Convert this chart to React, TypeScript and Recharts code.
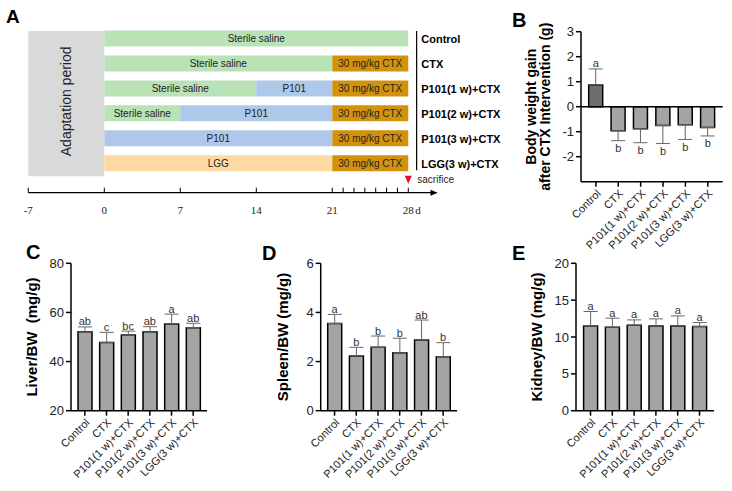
import React from 'react';
import {
  ComposedChart,
  Bar,
  Line,
  XAxis,
  YAxis,
  ErrorBar,
  LabelList,
  ReferenceArea,
  ReferenceLine,
  Cell,
} from 'recharts';

const FONT = '"Liberation Sans", Arial, Helvetica, sans-serif';
const SERIF = '"Liberation Serif", "Times New Roman", serif';

// ---- panel A: treatment timeline (days) ----
const timelineRows = ['Control', 'CTX', 'P101(1 w)+CTX', 'P101(2 w)+CTX', 'P101(3 w)+CTX', 'LGG(3 w)+CTX'];
const salineDays = [28, 21, 14, 7, 0, 0];
const p101Days = [0, 0, 7, 14, 21, 0];
const lggDays = [0, 0, 0, 0, 0, 21];
const ctxDays = [0, 7, 7, 7, 7, 7];
const dayTicks = [-7, 0, 7, 14, 21, 22, 23, 24, 25, 26, 27, 28];
const dayLabels = [-7, 0, 7, 14, 21, 28];

// ---- panels B-E: group means, SD and significance letters ----
const groups = ['Control', 'CTX', 'P101(1 w)+CTX', 'P101(2 w)+CTX', 'P101(3 w)+CTX', 'LGG(3 w)+CTX'];

const weightGain = [0.87, -0.96, -0.88, -0.75, -0.72, -0.83];
const weightGainSd = [0.64, 0.4, 0.56, 0.72, 0.59, 0.34];
const weightGainLetters = ['a', 'b', 'b', 'b', 'b', 'b'];

const liverRatio = [52.1, 47.8, 50.8, 52.1, 55.3, 53.8];
const liverSd = [2.0, 4.1, 1.6, 2.1, 4.0, 1.8];
const liverLetters = ['ab', 'c', 'bc', 'ab', 'a', 'ab'];

const spleenRatio = [3.55, 2.23, 2.58, 2.36, 2.88, 2.2];
const spleenSd = [0.37, 0.35, 0.46, 0.59, 0.81, 0.57];
const spleenLetters = ['a', 'b', 'b', 'b', 'ab', 'b'];

const kidneyRatio = [11.5, 11.32, 11.6, 11.5, 11.5, 11.42];
const kidneySd = [1.96, 1.23, 0.72, 0.96, 1.36, 0.54];
const kidneyLetters = ['a', 'a', 'a', 'a', 'a', 'a'];

const GREEN = '#b9e2b7';
const BLUE = '#aec8e9';
const PEACH = '#fed9a3';
const GOLD = '#d3920c';
const GREY_BAR = '#a4a4a4';
const DARK_BAR = '#6e6e6e';

function DayTick(props: any) {
  const { x, y, payload } = props;
  const v = payload.value;
  if (!dayLabels.includes(v)) return null;
  return (
    <g>
      <text x={x} y={y} dy="0.71em" textAnchor="middle" fontFamily={SERIF} fontSize={11} fill="#222">
        {v}
      </text>
      {v === 28 && (
        <text x={x + 7} y={y} dy="0.71em" textAnchor="start" fontFamily={SERIF} fontSize={11} fill="#222">
          d
        </text>
      )}
    </g>
  );
}

// label centred in a timeline segment, drawn as plain text so it never wraps
const segLabel = (text: string) => (lp: any) => {
  const vb = lp.viewBox || lp;
  if (!vb.width || Math.abs(vb.width) < 1) return null;
  return (
    <text
      x={vb.x + vb.width / 2}
      y={vb.y + vb.height / 2}
      dy="0.35em"
      textAnchor="middle"
      fontFamily={FONT}
      fontSize={10}
      fill="#222"
    >
      {text}
    </text>
  );
};

const rowName = (lp: any) => {
  const vb = lp.viewBox || {};
  const x = vb.x ?? lp.x;
  const y = vb.y ?? lp.y;
  return (
    <text x={x + 13} y={y} dy="0.35em" fontFamily={FONT} fontSize={11} fontWeight="bold" fill="#000">
      {lp.value}
    </text>
  );
};

function Timeline() {
  const data = timelineRows.map((name, i) => ({
    name,
    saline: salineDays[i],
    p101: p101Days[i],
    lgg: lggDays[i],
    ctx: ctxDays[i],
    end: salineDays[i] + p101Days[i] + lggDays[i] + ctxDays[i],
  }));

  return (
    <ComposedChart
      layout="vertical"
      width={510}
      height={222}
      data={data}
      barSize={16}
      margin={{ top: 26.5, right: 73.5, bottom: 0, left: 28.3 }}
      style={{ overflow: 'visible' }}
    >
      <XAxis
        type="number"
        domain={[-7, 30.6]}
        ticks={dayTicks}
        interval={0}
        height={29.3}
        axisLine={{ stroke: '#000', strokeWidth: 1.3 }}
        tickLine={{ stroke: '#000', strokeWidth: 1 }}
        tickSize={-5}
        tickMargin={18}
        tick={<DayTick />}
      />
      <YAxis type="category" dataKey="name" hide padding={{ top: 0, bottom: 16.5 }} />
      <ReferenceArea
        x1={-7}
        x2={0}
        fill="#d9d9d9"
        fillOpacity={1}
        stroke="none"
        shape={(p: any) => (
          <rect x={p.x} y={p.y + 4.5} width={p.width} height={p.height - 4.5} fill="#d9d9d9" />
        )}
        label={{ value: 'Adaptation period', angle: -90, position: 'center', fontSize: 14, fill: '#222', fontFamily: FONT }}
      />
      <Bar dataKey="saline" stackId="t" fill={GREEN} isAnimationActive={false}>
        <LabelList dataKey="saline" content={segLabel('Sterile saline')} />
      </Bar>
      <Bar dataKey="p101" stackId="t" fill={BLUE} isAnimationActive={false}>
        <LabelList dataKey="p101" content={segLabel('P101')} />
      </Bar>
      <Bar dataKey="lgg" stackId="t" fill={PEACH} isAnimationActive={false}>
        <LabelList dataKey="lgg" content={segLabel('LGG')} />
      </Bar>
      <Bar dataKey="ctx" stackId="t" fill={GOLD} isAnimationActive={false}>
        <LabelList dataKey="ctx" content={segLabel('30 mg/kg CTX')} />
      </Bar>
      {/* invisible series at the end of each schedule carrying the group names */}
      <Line dataKey="end" stroke="none" dot={false} activeDot={false} legendType="none" isAnimationActive={false}>
        <LabelList dataKey="name" content={rowName} />
      </Line>
      {/* separator between bars and group names */}
      <ReferenceLine
        x={28.77}
        stroke="#000"
        strokeWidth={1.2}
        shape={(p: any) => {
          const top = Math.min(p.y1, p.y2);
          const bottom = Math.max(p.y1, p.y2);
          return <line x1={p.x1} x2={p.x2} y1={top + 4.5} y2={bottom - 22.5} stroke="#000" strokeWidth={1.2} />;
        }}
      />
      {/* sacrifice marker on day 28 */}
      <ReferenceLine
        x={28}
        stroke="none"
        label={(p: any) => {
          const vb = p.viewBox;
          const cx = vb.x;
          const cy = vb.y + vb.height - 13;
          return (
            <g>
              <polygon points={`${cx - 3.5},${cy - 4} ${cx + 3.5},${cy - 4} ${cx},${cy + 4}`} fill="#e3121e" />
              <text x={cx + 9} y={cy + 3.5} fontFamily={FONT} fontSize={10} fill="#222">
                sacrifice
              </text>
            </g>
          );
        }}
      />
      {/* arrow head of the time axis */}
      <ReferenceLine
        x={30.6}
        stroke="none"
        label={(p: any) => {
          const vb = p.viewBox;
          const x = vb.x;
          const y = vb.y + vb.height;
          return <polygon points={`${x - 6},${y - 3} ${x + 1},${y} ${x - 6},${y + 3}`} fill="#000" />;
        }}
      />
    </ComposedChart>
  );
}

const axisTitle = (lines: string[], offsets: number[], size: number) => (props: any) => {
  const vb = props.viewBox;
  const axisX = vb.x + vb.width;
  const cy = vb.y + vb.height / 2;
  return (
    <g>
      {lines.map((t, i) => {
        const x = axisX - offsets[i];
        return (
          <text
            key={i}
            x={x}
            y={cy}
            transform={`rotate(-90, ${x}, ${cy})`}
            textAnchor="middle"
            dominantBaseline="central"
            fontFamily={FONT}
            fontWeight="bold"
            fontSize={size}
            fill="#000"
            style={{ whiteSpace: 'pre' }}
          >
            {t}
          </text>
        );
      })}
    </g>
  );
};

interface PanelProps {
  values: number[];
  sd: number[];
  letters: string[];
  domain: [number, number];
  ticks: number[];
  fills: string[];
  title: string[];
  titleOffsets: number[];
  titleSize: number;
  width: number;
  height: number;
  margin: { top: number; right: number; bottom: number; left: number };
  pad: number;
  xHeight: number;
  zeroLine?: boolean;
}

function GroupPanel(p: PanelProps) {
  const data = groups.map((name, i) => {
    const up = p.values[i] >= 0;
    return {
      name,
      value: p.values[i],
      err: up ? [0, p.sd[i]] : [p.sd[i], 0],
      cap: up ? p.values[i] + p.sd[i] : p.values[i] - p.sd[i],
      letter: p.letters[i],
    };
  });

  const renderLetter = (lp: any) => {
    const vb = lp.viewBox || {};
    const x = vb.x ?? lp.x;
    const y = vb.y ?? lp.y;
    const up = p.values[lp.index] >= 0;
    return (
      <text x={x} y={up ? y - 1.5 : y + 11.5} textAnchor="middle" fontFamily={FONT} fontSize={11} fill="#333">
        {lp.value}
      </text>
    );
  };

  const axisStyle = { stroke: '#000', strokeWidth: 1.5 };

  return (
    <ComposedChart width={p.width} height={p.height} data={data} margin={p.margin} style={{ overflow: 'visible' }}>
      <XAxis
        dataKey="name"
        interval={0}
        padding={{ left: p.pad, right: p.pad }}
        height={p.xHeight}
        axisLine={axisStyle}
        tickLine={axisStyle}
        tickSize={5}
        tick={{ angle: -45, textAnchor: 'end', fontSize: 11, fill: '#222', fontFamily: FONT }}
      />
      <YAxis
        type="number"
        domain={p.domain}
        ticks={p.ticks}
        interval={0}
        allowDataOverflow
        width={30}
        axisLine={axisStyle}
        tickLine={axisStyle}
        tickSize={5}
        tickMargin={2}
        tick={{ fontSize: 13, fill: '#222', fontFamily: FONT }}
        label={axisTitle(p.title, p.titleOffsets, p.titleSize)}
      />
      {p.zeroLine && <ReferenceLine y={0} stroke="#000" strokeWidth={1.5} />}
      <Bar dataKey="value" barSize={14} stroke="#000" strokeWidth={1.5} isAnimationActive={false}>
        {data.map((d, i) => (
          <Cell key={d.name} fill={p.fills[i]} />
        ))}
        <ErrorBar dataKey="err" direction="y" width={7} stroke="#666" strokeWidth={1} />
      </Bar>
      <Line dataKey="cap" stroke="none" dot={false} activeDot={false} legendType="none" isAnimationActive={false}>
        <LabelList dataKey="letter" content={renderLetter} />
      </Line>
    </ComposedChart>
  );
}

const greyFills = groups.map(() => GREY_BAR);
const weightFills = groups.map((g, i) => (i === 0 ? DARK_BAR : GREY_BAR));

const panelLetter = { fontFamily: FONT, fontWeight: 'bold' as const, fontSize: 20, fill: '#000' };

export default function App() {
  return (
    <div
      style={{
        position: 'absolute',
        left: 0,
        top: 0,
        width: 732,
        height: 491,
        background: '#fff',
        overflow: 'hidden',
        fontFamily: FONT,
      }}
    >
      <div style={{ position: 'absolute', left: 0, top: 0 }}>
        <Timeline />
      </div>

      <div style={{ position: 'absolute', left: 440, top: 0 }}>
        <GroupPanel
          values={weightGain}
          sd={weightGainSd}
          letters={weightGainLetters}
          domain={[-3, 3]}
          ticks={[-2, -1, 0, 1, 2, 3]}
          fills={weightFills}
          title={['Body weight gain', 'after CTX Intervention (g)']}
          titleOffsets={[50, 36]}
          titleSize={14}
          width={292}
          height={262}
          margin={{ top: 31.7, right: 9.3, bottom: 10.3, left: 111 }}
          pad={3.7}
          xHeight={70}
          zeroLine
        />
      </div>

      <div style={{ position: 'absolute', left: 0, top: 220 }}>
        <GroupPanel
          values={liverRatio}
          sd={liverSd}
          letters={liverLetters}
          domain={[20, 80]}
          ticks={[20, 40, 60, 80]}
          fills={greyFills}
          title={['Liver/BW\u00a0 (mg/g)']}
          titleOffsets={[40]}
          titleSize={15}
          width={240}
          height={271}
          margin={{ top: 43.3, right: 33, bottom: 5.3, left: 41 }}
          pad={3}
          xHeight={75}
        />
      </div>

      <div style={{ position: 'absolute', left: 250, top: 220 }}>
        <GroupPanel
          values={spleenRatio}
          sd={spleenSd}
          letters={spleenLetters}
          domain={[0, 6]}
          ticks={[0, 2, 4, 6]}
          fills={greyFills}
          title={['Spleen/BW (mg/g)']}
          titleOffsets={[38]}
          titleSize={15}
          width={240}
          height={271}
          margin={{ top: 43.3, right: 33, bottom: 5.3, left: 40.7 }}
          pad={3}
          xHeight={75}
        />
      </div>

      <div style={{ position: 'absolute', left: 490, top: 220 }}>
        <GroupPanel
          values={kidneyRatio}
          sd={kidneySd}
          letters={kidneyLetters}
          domain={[0, 20]}
          ticks={[0, 5, 10, 15, 20]}
          fills={greyFills}
          title={['Kidney/BW (mg/g)']}
          titleOffsets={[40]}
          titleSize={15}
          width={242}
          height={271}
          margin={{ top: 43.3, right: 18, bottom: 5.3, left: 56 }}
          pad={3.6}
          xHeight={75}
        />
      </div>

      <svg width={732} height={491} style={{ position: 'absolute', left: 0, top: 0, pointerEvents: 'none' }}>
        <text x={6} y={23} {...panelLetter} fontSize={19}>A</text>
        <text x={512} y={27} {...panelLetter}>B</text>
        <text x={26} y={259} {...panelLetter}>C</text>
        <text x={262} y={260} {...panelLetter}>D</text>
        <text x={512} y={260} {...panelLetter}>E</text>
      </svg>
    </div>
  );
}
